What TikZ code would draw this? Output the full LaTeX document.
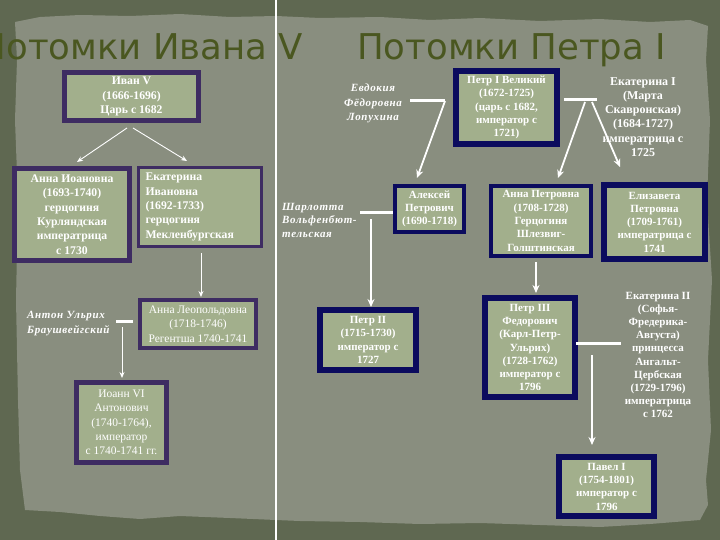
\documentclass[tikz,border=0pt]{standalone}
\usepackage{fontspec}
\setmainfont{Liberation Serif}
\newfontfamily\dejavu{DejaVu Sans}
\usetikzlibrary{arrows.meta}
\definecolor{outerc}{HTML}{5F6851}
\definecolor{paperc}{HTML}{898E7F}
\definecolor{boxfill}{HTML}{A2AF8C}
\definecolor{purp}{HTML}{3E2C62}
\definecolor{navy}{HTML}{0B0B5E}
\definecolor{titlec}{HTML}{4A5720}
\begin{document}
\begin{tikzpicture}[x=1pt,y=-1pt,
  lbox/.style={draw=purp, fill=boxfill, text=white, align=center, inner sep=0pt, outer sep=0pt,
     font=\bfseries\fontsize{11.7}{14.4}\selectfont},
  lboxr/.style={lbox, font=\fontsize{11.5}{14.4}\selectfont},
  rbox/.style={draw=navy, fill=boxfill, text=white, align=center, inner sep=0pt, outer sep=0pt,
     font=\bfseries\fontsize{11}{13.3}\selectfont},
  spouse/.style={text=white, font=\bfseries\itshape\fontsize{11}{14.5}\selectfont\addfontfeatures{LetterSpace=6}, inner sep=0pt},
  spouser/.style={text=white, font=\bfseries\fontsize{11}{14.2}\selectfont, inner sep=0pt, align=center},
  thinarr/.style={draw=white, line width=0.9pt, -{Stealth[length=6pt,width=5pt]}},
  thickarr/.style={draw=white, line width=1.8pt, -{Stealth[length=8pt,width=7pt]}},
  bar/.style={draw=white, line width=3pt},
  titlef/.style={text=titlec, font=\dejavu\fontsize{35.5}{35.5}\selectfont, inner sep=0pt}
]
\useasboundingbox (0,0) rectangle (720,540);
\fill[outerc] (0,0) rectangle (720,540);
\fill[paperc] (15,22) -- (40,17) -- (80,15) -- (130,16) -- (180,14) -- (230,17) -- (276,16) -- (320,18)
 -- (380,17) -- (430,20) -- (480,18) -- (540,21) -- (600,19) -- (650,22) -- (690,20) -- (708,26)
 -- (706,60) -- (710,120) -- (707,200) -- (712,280) -- (708,360) -- (711,430) -- (706,480) -- (708,505) -- (700,520)
 -- (650,524) -- (600,527) -- (540,525) -- (480,523) -- (420,524) -- (360,522) -- (300,521) -- (276,520)
 -- (230,518) -- (180,516) -- (140,519) -- (100,516) -- (60,512) -- (25,510)
 -- (20,470) -- (18,400) -- (16,300) -- (18,200) -- (15,120) -- (17,60) -- cycle;
\draw[white, line width=2pt] (275.5,0) -- (275.5,540);

% titles
\node[titlef, anchor=base east] (t1) at (303,60) {Потомки Ивана V};
\node[titlef, anchor=base west] (t2) at (357,60) {Потомки Петра I};

% left side
\node[lbox, line width=5pt, minimum width=134pt, minimum height=48pt] (ivan) at (131.5,96.5)
  {Иван V\\(1666-1696)\\Царь с 1682};
\node[lbox, line width=5pt, minimum width=115pt, minimum height=92pt] (annaI) at (72,214.5)
  {Анна Иоановна\\(1693-1740)\\герцогиня\\Курляндская\\императрица\\с 1730};
\node[lbox, line width=3pt, minimum width=123pt, minimum height=79pt, align=left, text width=109pt] (ekatI) at (200,207)
  {Екатерина\\Ивановна\\(1692-1733)\\герцогиня\\Мекленбургская};
\node[lboxr, line width=3.5pt, minimum width=116pt, minimum height=48pt] (annaL) at (198,324)
  {Анна Леопольдовна\\(1718-1746)\\Регентша 1740-1741};
\node[lboxr, line width=5pt, minimum width=90pt, minimum height=80pt] (ioann) at (121.5,422.5)
  {Иоанн VI\\Антонович\\(1740-1764),\\император\\с 1740-1741 гг.};
\node[spouse, align=left, anchor=west] (anton) at (27,323.5) {Антон Ульрих\\Браушвейгский};
\coordinate (antonL) at (116,321);
\coordinate (antonR) at (133,321);
\coordinate (antonD) at (122,327);

\draw[thinarr] ([xshift=-4.5pt,yshift=-7.5pt]ivan.south) -- ([xshift=5pt,yshift=6.5pt]annaI.north);
\draw[thinarr] ([xshift=1.5pt,yshift=-7.5pt]ivan.south) -- ([xshift=-13pt,yshift=6.5pt]ekatI.north);
\draw[thinarr] ([xshift=1pt,yshift=-6.5pt]ekatI.south) -- ([xshift=3pt,yshift=3pt]annaL.north);
\draw[bar] (antonL) -- (antonR);
\draw[thinarr] (antonD) -- ([xshift=0.5pt,yshift=4.5pt]ioann.north);

% right side
\node[rbox, line width=6pt, minimum width=101pt, minimum height=73pt] (petr1) at (506.5,107.5)
  {Петр I Великий\\(1672-1725)\\(царь с 1682,\\император с\\1721)};
\node[rbox, line width=4pt, minimum width=69pt, minimum height=46pt] (aleksei) at (429.5,209)
  {Алексей\\Петрович\\(1690-1718)};
\node[rbox, line width=4pt, minimum width=100pt, minimum height=70pt] (annaP) at (541,221)
  {Анна Петровна\\(1708-1728)\\Герцогиня\\Шлезвиг-\\Голштинская};
\node[rbox, line width=6pt, minimum width=101pt, minimum height=74pt] (eliz) at (654.5,222)
  {Елизавета\\Петровна\\(1709-1761)\\императрица с\\1741};
\node[rbox, line width=6pt, minimum width=96pt, minimum height=60pt] (petr2) at (368,340)
  {Петр II\\(1715-1730)\\император с\\1727};
\node[rbox, line width=6pt, minimum width=90pt, minimum height=99pt] (petr3) at (530,347.5)
  {Петр III\\Федорович\\(Карл-Петр-\\Ульрих)\\(1728-1762)\\император с\\1796};
\node[rbox, line width=6pt, minimum width=95pt, minimum height=59pt] (pavel) at (606.5,486.5)
  {Павел I\\(1754-1801)\\император с\\1796};

\node[spouse, align=center] (evdokia) at (373,103.5) {Евдокия\\Фёдоровна\\Лопухина};
\node[spouser, font=\bfseries\fontsize{12}{14.2}\selectfont] (ekat1) at (643,117)
  {Екатерина I\\(Марта\\Скавронская)\\(1684-1727)\\императрица с\\1725};
\node[spouse, align=left, anchor=west, font=\bfseries\itshape\fontsize{11}{13.5}\selectfont\addfontfeatures{LetterSpace=6}] (sharl) at (282,220)
  {Шарлотта\\Вольфенбют-\\тельская};
\node[spouser, font=\bfseries\fontsize{11}{13.2}\selectfont] (ekat2) at (658,355)
  {Екатерина II\\(Софья-\\Фредерика-\\Августа)\\принцесса\\Ангальт-\\Цербская\\(1729-1796)\\императрица\\с 1762};

\coordinate (evL) at (410,101);
\coordinate (evR) at (445,101);
\draw[bar] (evL) -- (evR);
\draw[thickarr] (evR) -- ([xshift=-12.5pt,yshift=8pt]aleksei.north);

\coordinate (p1L) at (564,100);
\coordinate (p1R) at (597,100);
\coordinate (p1a) at (585,102);
\coordinate (p1b) at (592,102);
\draw[bar] (p1L) -- (p1R);
\draw[thickarr] (p1a) -- ([xshift=17pt,yshift=8pt]annaP.north);
\draw[thickarr] (p1b) -- ([xshift=-34.5pt,yshift=18pt]eliz.north);

\coordinate (shL) at (360,213);
\coordinate (shR) at (393,213);
\coordinate (shD) at (371,219);
\draw[bar] (shL) -- (shR);
\draw[thickarr] (shD) -- ([xshift=3pt,yshift=3pt]petr2.north);

\draw[thickarr] ([xshift=-5pt,yshift=-6pt]annaP.south) -- ([xshift=6pt,yshift=5pt]petr3.north);

\coordinate (p3L) at (576,343);
\coordinate (p3R) at (621,343);
\coordinate (p3D) at (592,355);
\draw[bar] (p3L) -- (p3R);
\draw[thickarr] (p3D) -- ([xshift=-14.5pt,yshift=12pt]pavel.north);
\end{tikzpicture}
\end{document}
